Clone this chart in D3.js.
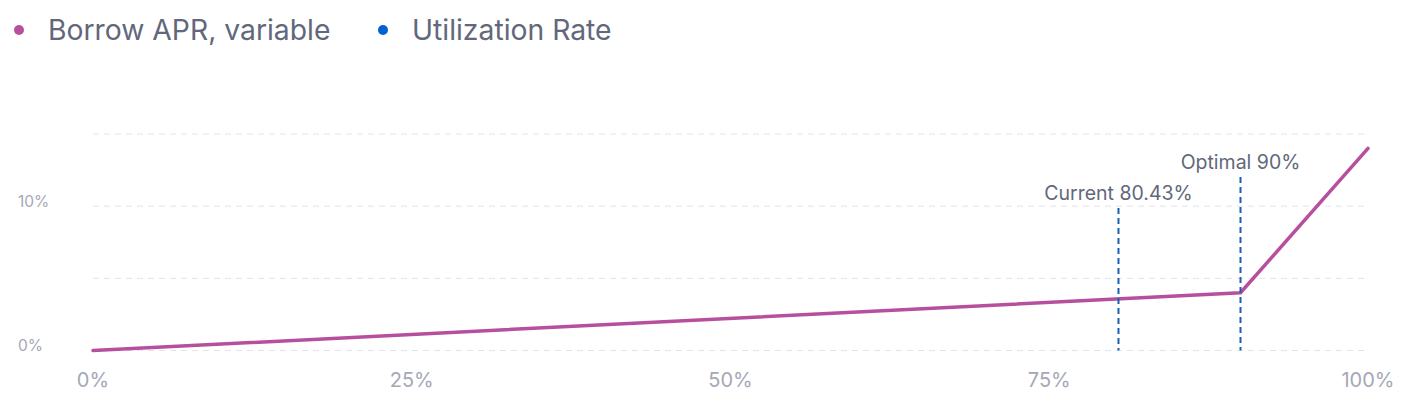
<!DOCTYPE html>
<meta charset="utf-8">
<style>
body { margin: 0; background: #fff; font-family: Inter, sans-serif; }
.grid line { stroke: #e2e4ec; stroke-dasharray: 6 5; }
.tick-label { fill: #a5a8b6; font-size: 15.5px; }
.legend text { fill: #62677b; font-size: 28.3px; }
.marker text { fill: #62677b; font-size: 19.5px; }
</style>
<body>
<script src="https://cdn.jsdelivr.net/npm/d3@7"></script>
<script>
// data
var utilization = [0, 90, 100];
var borrowApr = [0, 4, 14];
var markers = [{label: "Current 80.43%", value: 80.43, top: 208}, {label: "Optimal 90%", value: 90, top: 177}];
var xTicks = [0, 25, 50, 75, 100];
var yTicks = [0, 10];
var gridTicks = [0, 5, 10, 15];

var W = 1407, H = 399;
var svg = d3.select("body").append("svg").attr("width", W).attr("height", H);

var x = d3.scaleLinear().domain([0, 100]).range([93, 1368]);
var y = d3.scaleLinear().domain([0, 15]).range([350.5, 134]);

// legend
var legend = [{name: "Borrow APR, variable", color: "#b6509e", x: 19}, {name: "Utilization Rate", color: "#0062d2", x: 383}];
var lg = svg.append("g").attr("class", "legend");
legend.forEach(function(d) {
  lg.append("circle").attr("cx", d.x).attr("cy", 30).attr("r", 5).attr("fill", d.color);
  lg.append("text").attr("x", d.x + 29).attr("y", 40).text(d.name);
});

// grid
svg.append("g").attr("class", "grid").selectAll("line")
  .data(gridTicks).enter().append("line")
  .attr("x1", x(0)).attr("x2", x(100))
  .attr("y1", function(d) { return y(d); }).attr("y2", function(d) { return y(d); });

// y labels
svg.selectAll(".ylab").data(yTicks).enter().append("text")
  .attr("class", "tick-label")
  .attr("x", 18).attr("y", function(d) { return y(d) + 0.5; })
  .text(function(d) { return d + "%"; });

// x labels
svg.selectAll(".xlab").data(xTicks).enter().append("text")
  .attr("class", "tick-label")
  .attr("text-anchor", "middle")
  .style("font-size", "20px")
  .attr("x", function(d) { return x(d); }).attr("y", 387)
  .text(function(d) { return d + "%"; });

// line
var pts = utilization.map(function(u, i) { return [u, borrowApr[i]]; });
svg.append("path").datum(pts)
  .attr("fill", "none").attr("stroke", "#b6509e").attr("stroke-width", 3.5)
  .attr("stroke-linecap", "round")
  .attr("d", d3.line().x(function(d) { return x(d[0]); }).y(function(d) { return y(d[1]); }));

// markers
var mk = svg.append("g").attr("class", "marker");
markers.forEach(function(m) {
  mk.append("line")
    .attr("x1", x(m.value)).attr("x2", x(m.value))
    .attr("y1", m.top).attr("y2", y(0))
    .attr("stroke", "#1a5fb4").attr("stroke-width", 2).attr("stroke-dasharray", "6 4");
  mk.append("text").attr("x", x(m.value)).attr("y", m.top - 8)
    .attr("text-anchor", "middle").text(m.label);
});
</script>
</body>
